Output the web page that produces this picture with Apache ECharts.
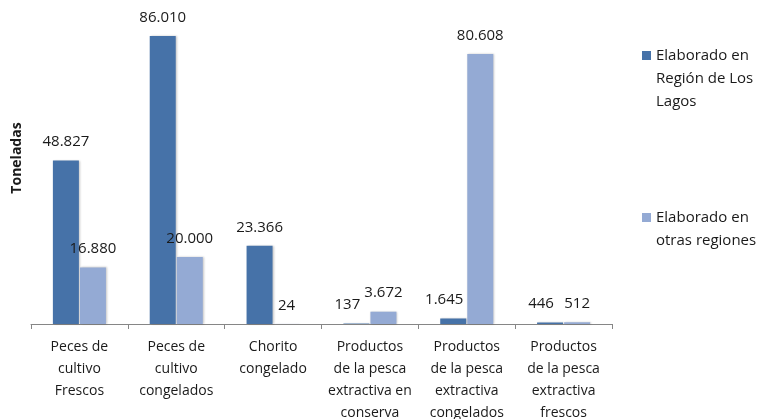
<!DOCTYPE html>
<html>
<head>
<meta charset="utf-8">
<script src="https://cdn.jsdelivr.net/npm/echarts@6/dist/echarts.min.js"></script>
<style>
  html, body { margin: 0; padding: 0; background: #fff; }
  #chart { width: 761px; height: 419px; }
</style>
</head>
<body>
<div id="chart"></div>
<script>
// categorias y valores (toneladas)
const categorias = [
  'Peces de\ncultivo\nFrescos',
  'Peces de\ncultivo\ncongelados',
  'Chorito\ncongelado',
  'Productos\nde la pesca\nextractiva en\nconserva',
  'Productos\nde la pesca\nextractiva\ncongelados',
  'Productos\nde la pesca\nextractiva\nfrescos'
];
const losLagos = [48827, 86010, 23366, 137, 1645, 446];
const otrasRegiones = [16880, 20000, 24, 3672, 80608, 512];

const nombreLagos = 'Elaborado en\nRegión de Los\nLagos';
const nombreOtras = 'Elaborado en\notras regiones';

const FONT = '"Open Sans", "Noto Sans", sans-serif';
const fmt = v => v.toLocaleString('de-DE');

const chart = echarts.init(document.getElementById('chart'));

const barLabel = {
  show: true,
  position: 'top',
  distance: 11,
  color: '#1a1a1a',
  fontSize: 15,
  fontFamily: FONT,
  formatter: p => fmt(p.value)
};
const shadow = {
  shadowColor: 'rgba(0,0,0,0.22)',
  shadowBlur: 2,
  shadowOffsetX: 1
};

// icono: cuadrado arriba, alto extra invisible para alinear con la 1a linea
const iconTres = 'path://M0,0H9V9H0Z M0,55L0.01,55';
const iconDos = 'path://M0,0H9V9H0Z M0,32L0.01,32';
const legendText = { fontSize: 15, fontFamily: FONT, color: '#1a1a1a', lineHeight: 23 };

chart.setOption({
  animation: false,
  grid: { left: 31, right: 149, top: 36, bottom: 95, outerBoundsMode: 'none' },
  legend: [
    {
      left: 642, top: 44, padding: 0,
      itemWidth: 9, itemHeight: 55, itemGap: 0,
      data: [{ name: nombreLagos, icon: iconTres }],
      textStyle: legendText
    },
    {
      left: 642, top: 206, padding: 0,
      itemWidth: 9, itemHeight: 32, itemGap: 0,
      data: [{ name: nombreOtras, icon: iconDos }],
      textStyle: legendText
    }
  ],
  xAxis: {
    type: 'category',
    data: categorias,
    axisLine: { lineStyle: { color: '#868686' } },
    axisTick: { show: true, length: 5, lineStyle: { color: '#868686' } },
    axisLabel: {
      interval: 0,
      margin: 12,
      fontSize: 14,
      lineHeight: 22,
      color: '#1a1a1a',
      fontFamily: FONT
    }
  },
  yAxis: {
    type: 'value',
    min: 0,
    max: 'dataMax',
    name: 'Toneladas',
    nameLocation: 'middle',
    nameGap: 7,
    nameRotate: 90,
    nameTextStyle: {
      fontSize: 14, fontWeight: 'bold', color: '#1a1a1a', fontFamily: FONT,
      padding: [0, 0, 0, 44]
    },
    axisLine: { show: false },
    axisTick: { show: false },
    axisLabel: { show: false },
    splitLine: { show: false }
  },
  series: [
    {
      name: nombreLagos,
      type: 'bar',
      barWidth: 26,
      barGap: '4%',
      itemStyle: Object.assign({ color: '#4672A8' }, shadow),
      label: barLabel,
      // valores chicos: la etiqueta va corrida a la izquierda como en el original
      data: losLagos.map(v => v < 2000 ? { value: v, label: { offset: [-9, 0] } } : v)
    },
    {
      name: nombreOtras,
      type: 'bar',
      barWidth: 26,
      itemStyle: Object.assign({ color: '#94AAD4' }, shadow),
      label: barLabel,
      data: otrasRegiones
    }
  ]
});
</script>
</body>
</html>
